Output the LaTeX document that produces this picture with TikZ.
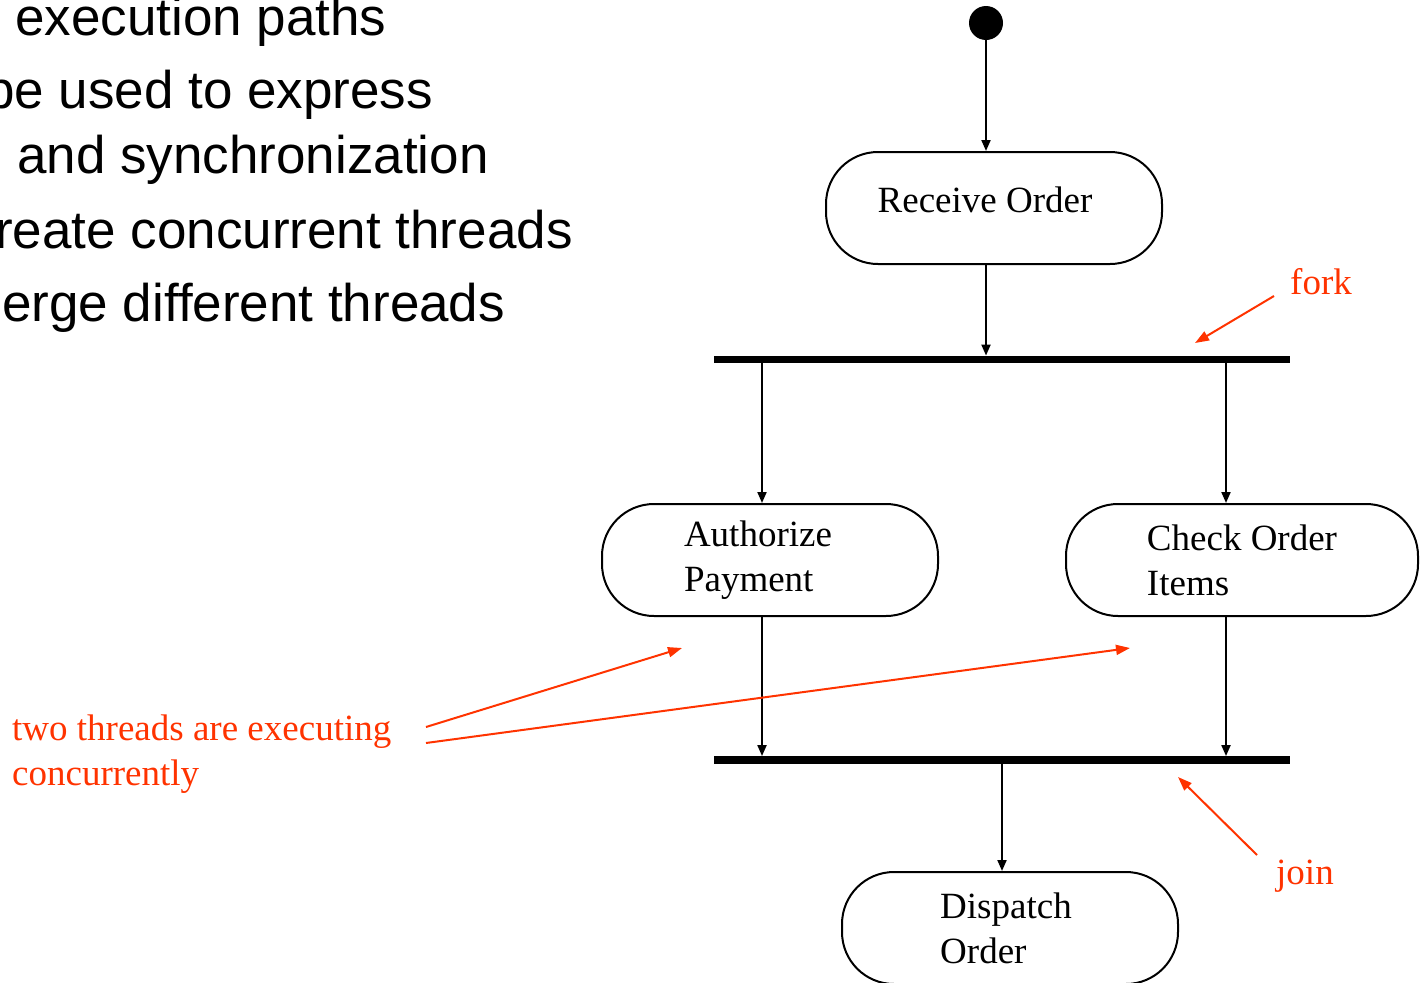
\documentclass[tikz,border=0pt]{standalone}
\usepackage{fontspec}
\setmainfont{Liberation Serif}
\newfontfamily\slidefont{Liberation Sans}
\usetikzlibrary{arrows.meta,positioning}
\definecolor{notered}{RGB}{255,51,0}
\tikzset{
  activity/.style={draw, line width=2pt, rounded corners=52pt, minimum width=336pt,
    minimum height=112pt, inner sep=0pt, align=left,
    font=\fontsize{37}{45}\selectfont},
  syncbar/.style={fill=black, draw=none, minimum width=576pt, minimum height=7.5pt, inner sep=0pt},
  flow/.style={line width=2pt, -{Triangle[length=11pt,width=9pt]}},
  note/.style={text=notered, font=\fontsize{37}{45}\selectfont, inner sep=0pt, align=left},
  notearrow/.style={draw=notered, line width=2pt, -{Triangle[length=14pt,width=10pt]}},
  bullet/.style={font=\slidefont\fontsize{53}{60}\selectfont, inner sep=0pt, anchor=base west}
}
\begin{document}
\begin{tikzpicture}[x=1pt,y=-1pt]
\useasboundingbox (0,0) rectangle (1425,983);
\clip (0,0) rectangle (1425,983);

% slide text
\node[bullet] (l1) at (15,35) {execution paths};
\node[bullet] (l2) at (-15,108) {be used to express};
\node[bullet] (l3) at (17,173) {and synchronization};
\node[bullet] (l4) at (-5,248) {reate concurrent threads};
\node[bullet] (l5) at (2,321) {erge different threads};

% activity diagram
\node[circle, fill=black, minimum size=34pt, inner sep=0pt] (start) at (986,23) {};
\node[activity, text depth=17pt] (recv) at (994,208) {Receive Order\hspace*{18pt}};
\node[syncbar] (fork) at (1002,359.5) {};
\node[activity] (auth) at (770,560) {Authorize\hspace*{24pt}\\Payment};
\node[activity, minimum width=352pt] (check) at (1242,560) {Check Order\\Items};
\node[syncbar] (join) at (1002,760) {};
\node[activity] (disp) at (1010,928) {Dispatch\hspace*{8pt}\\Order};

\draw[flow] (start) -- (start |- recv.north);
\draw[flow] ([xshift=-8pt]recv.south) -- ([xshift=-8pt]recv.south |- fork.north);
\draw[flow] ([xshift=-8pt]auth.north |- fork.south) -- ([xshift=-8pt]auth.north);
\draw[flow] ([xshift=-16pt]check.north |- fork.south) -- ([xshift=-16pt]check.north);
\draw[flow] ([xshift=-8pt]auth.south) -- ([xshift=-8pt]auth.south |- join.north);
\draw[flow] ([xshift=-16pt]check.south) -- ([xshift=-16pt]check.south |- join.north);
\draw[flow] ([xshift=-8pt]disp.north |- join.south) -- ([xshift=-8pt]disp.north);

% annotations
\node[note, anchor=base west] (forklbl) at (1290,294) {fork};
\coordinate (forktail) at (1274,296);
\coordinate (forkhead) at (1195,343);
\draw[notearrow] (forktail) -- (forkhead);

\node[note, anchor=base west] (joinlbl) at (1276,884) {join};
\coordinate (jointail) at (1257,855);
\coordinate (joinhead) at (1178,777);
\draw[notearrow] (jointail) -- (joinhead);

\node[note, anchor=north west] (conc) at (12,715) {two threads are executing\\concurrently};
\coordinate (conctailA) at (426,727);
\coordinate (conctailB) at (426,743);
\coordinate (concheadA) at (682,648);
\coordinate (concheadB) at (1130,648);
\draw[notearrow] (conctailA) -- (concheadA);
\draw[notearrow] (conctailB) -- (concheadB);
\end{tikzpicture}
\end{document}
